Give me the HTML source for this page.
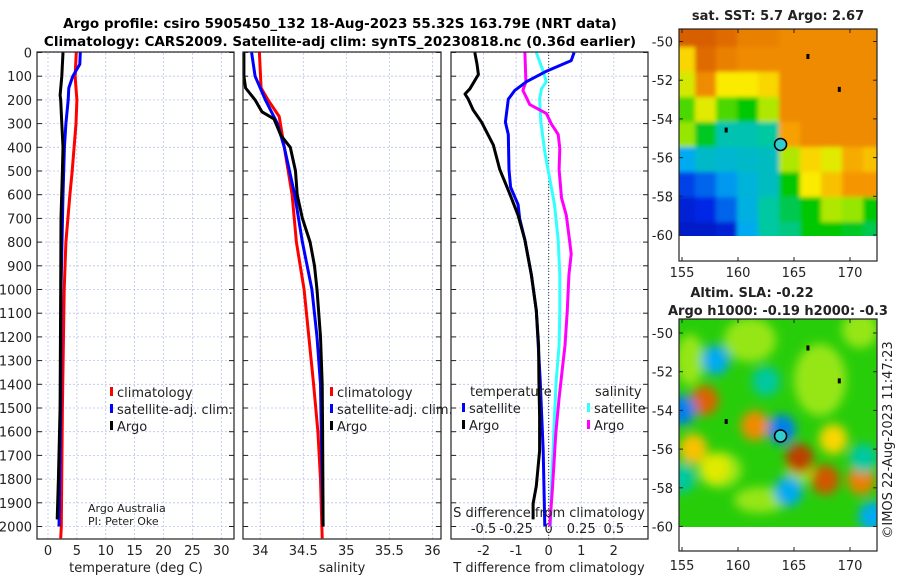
<!DOCTYPE html>
<html><head><meta charset="utf-8"><style>
body{margin:0;background:#fff;}
svg{display:block;font-family:"DejaVu Sans","Liberation Sans",sans-serif;}
</style></head><body>
<svg id="fig" width="900" height="580" viewBox="0 0 900 580" xmlns="http://www.w3.org/2000/svg">
<defs>
<filter id="blur1" x="-5%" y="-5%" width="110%" height="110%"><feGaussianBlur stdDeviation="2"/></filter>
<filter id="blur2" x="-50%" y="-50%" width="200%" height="200%"><feGaussianBlur stdDeviation="5"/></filter>
<clipPath id="clipSST"><rect x="679" y="29" width="198" height="207"/></clipPath>
<clipPath id="clipSLA"><rect x="679" y="319" width="198" height="208"/></clipPath>
</defs>
<text x="340" y="28" text-anchor="middle" font-weight="bold" font-size="13.5">Argo profile: csiro 5905450_132 18-Aug-2023 55.32S 163.79E (NRT data)</text>
<text x="340" y="46" text-anchor="middle" font-weight="bold" font-size="13.5">Climatology: CARS2009. Satellite-adj clim: synTS_20230818.nc (0.36d earlier)</text>
<g id="panels"></g>
<g id="maps"></g>
</svg>
<script>
// ---------- data ----------
const depthTicks=[0,100,200,300,400,500,600,700,800,900,1000,1100,1200,1300,1400,1500,1600,1700,1800,1900,2000];
const tempTicks=[0,5,10,15,20,25,30];
const salTicks=[34,34.5,35,35.5,36];
const salTickLabels=["34","34.5","35","35.5","36"];
const tdiffTicks=[-2,-1,0,1,2];
const sdiffTicks=[-0.5,-0.25,0,0.25,0.5];
const sdiffTickLabels=["-0.5","-0.25","0","0.25","0.5"];

const argoTdepth=[0,100,180,200,300,400,500,700,1000,1500,1800,1970];
const argoT=[2.6,2.4,2.1,2.2,2.4,2.6,2.5,2.25,2.2,2.1,1.8,1.6];
const climTdepth=[0,100,200,300,500,600,800,1000,1500,2000,2050];
const climT=[4.9,4.7,5.0,4.85,4.2,3.8,3.1,2.8,2.5,2.3,2.2];
const satTdepth=[0,50,100,150,200,300,400,600,1000,1500,2000];
const satT=[5.6,5.5,4.3,3.6,3.5,3.1,2.85,2.6,2.25,2.2,1.9];

const argoSdepth=[0,100,150,200,250,280,350,400,500,600,700,800,900,1000,1200,1400,1600,2000];
const argoS=[33.81,33.81,33.83,33.94,34.02,34.16,34.24,34.35,34.41,34.43,34.49,34.58,34.63,34.66,34.70,34.72,34.725,34.73];
const climSdepth=[0,150,200,270,400,600,800,1000,1400,1600,1800,2050];
const climS=[33.99,34.01,34.09,34.22,34.28,34.37,34.42,34.51,34.62,34.67,34.70,34.72];
const satSdepth=[0,100,200,300,400,500,600,800,1000,1200,1400,1600,2000];
const satS=[33.9,33.94,34.06,34.20,34.28,34.34,34.40,34.49,34.60,34.66,34.70,34.71,34.73];

const dSatTdepth=[0,34,49,79,123,160,197,294,346,494,568,642,702,791,939,1088,1384,1680,2000];
const dSatT=[0.78,0.69,0.44,-0.07,-0.68,-1.04,-1.24,-1.33,-1.24,-1.22,-1.17,-0.94,-0.89,-0.73,-0.53,-0.38,-0.26,-0.17,-0.12];
const dArgoTdepth=[0,49,93,153,175,197,242,294,390,494,598,687,791,939,1088,1236,1384,1533,1681,1829,1904,1970];
const dArgoT=[-2.27,-2.2,-2.16,-2.42,-2.57,-2.47,-2.32,-2.06,-1.7,-1.5,-1.19,-0.94,-0.73,-0.53,-0.38,-0.31,-0.30,-0.28,-0.28,-0.38,-0.48,-0.48];
const dSatSdepth=[0,79,123,153,197,294,420,494,568,642,791,939,1088,1236,1384,1533,1681,1829,2000];
const dSatS=[-0.095,-0.043,-0.018,-0.055,-0.07,-0.06,-0.03,-0.005,0.02,0.045,0.073,0.085,0.085,0.08,0.058,0.045,0.033,0.02,0.015];
const dArgoSdepth=[0,123,160,197,220,257,301,346,405,494,613,687,791,850,939,1088,1236,1310,1458,1607,1829,2000];
const dArgoS=[-0.183,-0.175,-0.198,-0.165,-0.145,-0.018,0.02,0.073,0.085,0.08,0.098,0.135,0.16,0.173,0.155,0.143,0.125,0.11,0.08,0.055,0.03,0.008];

// ---------- helpers ----------
const NS="http://www.w3.org/2000/svg";
function mk(tag,attrs,parent){const e=document.createElementNS(NS,tag);for(const k in attrs)e.setAttribute(k,attrs[k]);parent.appendChild(e);return e;}
const panelsG=document.getElementById('panels');
const Y0=52.5, YPER=0.237, YBOT=539;
function yD(d){return Y0+d*YPER;}

function makePanel(name,x0,x1,xmin,xmax){
  const g=mk('g',{},panelsG);
  
  
  const xs=v=>x0+(v-xmin)/(xmax-xmin)*(x1-x0);
  return {g,xs,x0,x1};
}
function grid(p,xt,labels,labelY){
  depthTicks.forEach(d=>{
    const l=mk('line',{x1:p.x0,x2:p.x1,y1:yD(d),y2:yD(d),stroke:'#b8c4ea','stroke-width':0.8,'stroke-dasharray':'2,2'},p.g);
    
    
    mk('line',{x1:p.x0,x2:p.x0+5,y1:yD(d),y2:yD(d),stroke:'#222'},p.g);
    mk('line',{x1:p.x1-5,x2:p.x1,y1:yD(d),y2:yD(d),stroke:'#222'},p.g);
  });
  xt.forEach((v,i)=>{
    const x=p.xs(v);
    const l=mk('line',{x1:x,x2:x,y1:YBOT,y2:52,stroke:'#b8c4ea','stroke-width':0.8,'stroke-dasharray':'2,2'},p.g);
    
    
    if(labels){
      const t=mk('text',{x:x,y:labelY,'text-anchor':'middle','font-size':13,fill:'#222'},p.g);
      t.textContent=labels[i];
      
      
    }
  });
}
function frame(p){
  const r=mk('rect',{x:p.x0,y:52,width:p.x1-p.x0,height:YBOT-52,fill:'none',stroke:'#222','stroke-width':1.2},p.g);
  
  
}
function line(p,depths,vals,color,name,xsf){
  const f=xsf||p.xs;
  const pts=depths.map((d,i)=>f(vals[i]).toFixed(1)+','+yD(d).toFixed(1)).join(' ');
  const pl=mk('polyline',{points:pts,fill:'none',stroke:color,'stroke-width':3,'stroke-linejoin':'round'},p.g);
  
  
}
function legendEntry(g,x,y,color,label){
  const e=mk('g',{},g);
  
  
  mk('rect',{x:x,y:y-10,width:3,height:9,fill:color},e);
  const t=mk('text',{x:x+7,y:y,'font-size':13,fill:'#222'},e);
  t.textContent=label;
}
function txt(g,x,y,s,name,size,anchor){
  const t=mk('text',{x:x,y:y,'font-size':size||13,fill:'#222','text-anchor':anchor||'start'},g);
  t.textContent=s;
  
  
  return t;
}

// Panel 1 temperature
const p1=makePanel('temperature-panel',37,234,-1.9,32.2);
grid(p1,tempTicks,tempTicks.map(String),555);
depthTicks.forEach(d=>{
  const t=mk('text',{x:32,y:yD(d)+5,'text-anchor':'end','font-size':13,fill:'#222'},p1.g);
  t.textContent=String(d);
  
  
});
line(p1,climTdepth,climT,'#ff0000','climatology-temperature-line');
line(p1,satTdepth,satT,'#0000ff','satellite-temperature-line');
line(p1,argoTdepth,argoT,'#000','argo-temperature-line');
frame(p1);
txt(p1.g,136,572,'temperature (deg C)','temperature-axis-title',13,'middle');
legendEntry(p1.g,110,397,'#ff0000','climatology');
legendEntry(p1.g,110,414,'#0000ff','satellite-adj. clim.');
legendEntry(p1.g,110,431,'#000','Argo');
txt(p1.g,88,512,'Argo Australia','credit-argo-australia',11);
txt(p1.g,88,525,'PI: Peter Oke','credit-pi',11);

// Panel 2 salinity
const p2=makePanel('salinity-panel',243,441,33.8,36.1);
grid(p2,salTicks,salTickLabels,555);
line(p2,climSdepth,climS,'#ff0000','climatology-salinity-line');
line(p2,satSdepth,satS,'#0000ff','satellite-salinity-line');
line(p2,argoSdepth,argoS,'#000','argo-salinity-line');
frame(p2);
txt(p2.g,342,572,'salinity','salinity-axis-title',13,'middle');
legendEntry(p2.g,330,397,'#ff0000','climatology');
legendEntry(p2.g,330,414,'#0000ff','satellite-adj. clim.');
legendEntry(p2.g,330,431,'#000','Argo');

// Panel 3 differences
const p3=makePanel('difference-panel',451,648,-3.0,3.05);
grid(p3,tdiffTicks,tdiffTicks.map(String),555);
const xsS=v=>p3.xs(v*4);
sdiffTicks.forEach((v,i)=>{
  const t=mk('text',{x:xsS(v),y:533,'text-anchor':'middle','font-size':13,fill:'#222'},p3.g);
  t.textContent=sdiffTickLabels[i];
  
  
});
const zl=mk('line',{x1:p3.xs(0),x2:p3.xs(0),y1:52,y2:YBOT,stroke:'#333','stroke-width':1,'stroke-dasharray':'1,2'},p3.g);


line(p3,dSatSdepth,dSatS,'#33ffff','satellite-salinity-diff-line',xsS);
line(p3,dArgoSdepth,dArgoS,'#ff00ff','argo-salinity-diff-line',xsS);
line(p3,dSatTdepth,dSatT,'#0000ff','satellite-temperature-diff-line');
line(p3,dArgoTdepth,dArgoT,'#000','argo-temperature-diff-line');
frame(p3);
txt(p3.g,549,572,'T difference from climatology','t-diff-axis-title',13,'middle');
txt(p3.g,549,517,'S difference from climatology','s-diff-axis-title',13,'middle');
txt(p3.g,470,396,'temperature','legend-title-temperature',13);
txt(p3.g,595,396,'salinity','legend-title-salinity',13);
legendEntry(p3.g,462,413,'#0000ff','satellite');
legendEntry(p3.g,462,430,'#000','Argo');
legendEntry(p3.g,587,413,'#33ffff','satellite');
legendEntry(p3.g,587,430,'#ff00ff','Argo');

// ---------- maps ----------
const mapsG=document.getElementById('maps');
const sstGrid=[
[.86,.86,.84,.8,.8,.78,.78,.78,.78,.78],
[.7,.84,.8,.78,.78,.78,.78,.78,.78,.78],
[.65,.78,.68,.68,.7,.78,.78,.78,.78,.78],
[.55,.66,.55,.5,.62,.78,.78,.78,.78,.78],
[.6,.48,.38,.38,.4,.75,.78,.78,.78,.78],
[.3,.35,.34,.35,.36,.62,.7,.66,.74,.72],
[.18,.22,.28,.33,.36,.5,.68,.72,.76,.76],
[.12,.15,.22,.32,.4,.45,.5,.62,.6,.5],
[.1,.1,.12,.3,.4,.42,.5,.5,.48,.45]];
const slaBlobs=[[157,-53.5,0.85],[165.5,-56.5,0.93],[167.8,-57.6,0.88],[171,-57.6,0.8],[161.5,-54.8,0.78],[156,-56,0.72],[168.5,-55.5,0.7],[158,-51.4,0.3],[155,-54,0.25],[163.9,-55,0.25],[164.5,-58.2,0.3],[172,-59.5,0.3],[162.5,-52.5,0.4],[171.2,-56.5,0.4],[155,-57.5,0.4],[158,-57,0.66]];

function jet(v){
  v=Math.max(0,Math.min(1,v));
  const stops=[[0,[0,0,140]],[0.15,[0,40,230]],[0.3,[0,170,240]],[0.4,[0,200,160]],[0.5,[0,200,0]],[0.6,[150,230,0]],[0.68,[250,235,0]],[0.76,[245,150,0]],[0.85,[220,100,0]],[1,[160,30,0]]];
  for(let i=1;i<stops.length;i++){if(v<=stops[i][0]){const a=stops[i-1],b=stops[i],t=(v-a[0])/(b[0]-a[0]);return 'rgb('+a[1].map((c,j)=>Math.round(c+(b[1][j]-c)*t)).join(',')+')';}}
  return 'rgb(160,30,0)';
}
function lonX(lon){return 682+(lon-155)*11.2;}
function mapAxes(g,top,lat50,dataBot,frameBot,labY){
  const latY=lat=>lat50+(-50-lat)*19.35;
  mk('rect',{x:679,y:top,width:198,height:frameBot-top,fill:'none',stroke:'#222','stroke-width':1.2},g);
  [-50,-52,-54,-56,-58,-60].forEach(l=>{
    const y=latY(l);
    mk('line',{x1:679,x2:683,y1:y,y2:y,stroke:'#222'},g);
    mk('line',{x1:873,x2:877,y1:y,y2:y,stroke:'#222'},g);
    const t=mk('text',{x:673,y:y+5,'text-anchor':'end','font-size':13,fill:'#222'},g);
    t.textContent=String(l);
    
    
  });
  [155,160,165,170].forEach(l=>{
    const x=lonX(l);
    mk('line',{x1:x,x2:x,y1:frameBot,y2:frameBot-4,stroke:'#222'},g);
    mk('line',{x1:x,x2:x,y1:top,y2:top+4,stroke:'#222'},g);
    const t=mk('text',{x:x,y:labY,'text-anchor':'middle','font-size':13,fill:'#222'},g);
    t.textContent=String(l);
    
    
  });
  [[166.2,-50.8],[169,-52.5],[158.9,-54.6]].forEach(p=>{
    const r=mk('rect',{x:lonX(p[0])-1,y:latY(p[1])-3,width:3,height:5,fill:'#000'},g);
    
    
  });
  const c=mk('circle',{cx:lonX(163.8),cy:latY(-55.32),r:6,fill:'#33cccc',stroke:'#000','stroke-width':1.5},g);
  
  
  return latY;
}
// SST map
const sstG=mk('g',{},mapsG);


const sstField=mk('g',{'clip-path':'url(#clipSST)'},sstG);
const sstInner=mk('g',{filter:'url(#blur1)'},sstField);
sstGrid.forEach((row,i)=>row.forEach((v,j)=>{
  mk('rect',{x:674+j*21,y:22+i*25,width:23,height:27,fill:jet(v)},sstInner);
}));
const sstTitle=txt(sstG,778,20,'sat. SST: 5.7 Argo: 2.67','sst-map-title',13,'middle');sstTitle.setAttribute('font-weight','bold');
mapAxes(sstG,29,41.5,236,261,277);
// SLA map
const slaG=mk('g',{},mapsG);


const slaField=mk('g',{'clip-path':'url(#clipSLA)'},slaG);
mk('rect',{x:679,y:319,width:198,height:208,fill:'rgb(40,205,10)'},slaField);
const slaInner=mk('g',{filter:'url(#blur2)'},slaField);
[[690,360,14,26],[750,340,26,22],[720,470,22,18],[820,380,26,36],[860,330,18,18],[760,500,26,13],[800,470,14,14]].forEach(e=>mk('ellipse',{cx:e[0],cy:e[1],rx:e[2],ry:e[3],fill:'rgb(150,230,20)'},slaInner));
slaBlobs.forEach(b=>{
  const e=mk('ellipse',{cx:lonX(b[0]),cy:333+(-50-b[1])*19.3,rx:14,ry:15,fill:jet(b[2])},slaInner);
  
  
});
const s1=txt(slaG,752,297,'Altim. SLA: -0.22','sla-map-title',13,'middle');s1.setAttribute('font-weight','bold');
const s2=txt(slaG,778,315,'Argo h1000: -0.19 h2000: -0.3','sla-map-subtitle',13,'middle');s2.setAttribute('font-weight','bold');
mapAxes(slaG,319,333,527,551,570);
const stamp=txt(mapsG,0,0,'©IMOS 22-Aug-2023 11:47:23','imos-timestamp',13,'middle');
stamp.setAttribute('transform','translate(892,440) rotate(-90)');
</script>
</body></html>
